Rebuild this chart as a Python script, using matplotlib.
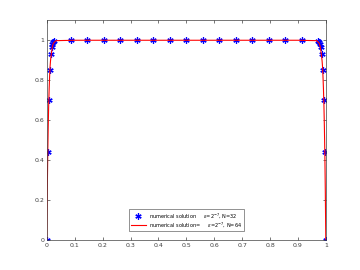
# numerical solution on shishkin mesh, eps = 2^-7
import numpy as np
import matplotlib
matplotlib.use('Agg')
import matplotlib.pyplot as plt

# N=32 nodes
x32 = [0.0, 0.0034, 0.0068, 0.0101, 0.0135, 0.0169, 0.0203, 0.0236, 0.027,
       0.0861, 0.1452, 0.2043, 0.2634, 0.3226, 0.3817, 0.4408, 0.5,
       0.5591, 0.6182, 0.6773, 0.7365, 0.7956, 0.8547, 0.9138,
       0.973, 0.9764, 0.9797, 0.9831, 0.9865, 0.9899, 0.9932, 0.9966, 1.0]
u32 = [0.0, 0.44, 0.70, 0.85, 0.93, 0.965, 0.982, 0.992, 0.996,
       1.0, 1.0, 1.0, 1.0, 1.0, 1.0, 1.0, 1.0,
       1.0, 1.0, 1.0, 1.0, 1.0, 1.0, 1.0,
       0.996, 0.992, 0.982, 0.965, 0.93, 0.85, 0.70, 0.44, 0.0]

# N=64 (only the boundary layers differ visibly)
x64 = [0.0, 0.0017, 0.0034, 0.0051, 0.0068, 0.0085, 0.0101, 0.0118, 0.0135,
       0.0169, 0.0203, 0.0236, 0.0325, 0.1, 0.3, 0.5, 0.7, 0.9, 0.9675,
       0.9764, 0.9797, 0.9831, 0.9865, 0.9882, 0.9899, 0.9915, 0.9932,
       0.9949, 0.9966, 0.9983, 1.0]
u64 = [0.0, 0.24, 0.43, 0.57, 0.68, 0.76, 0.82, 0.87, 0.90,
       0.94, 0.97, 0.985, 0.998, 1.0, 1.0, 1.0, 1.0, 1.0, 0.998,
       0.985, 0.97, 0.94, 0.90, 0.87, 0.82, 0.76, 0.68,
       0.57, 0.43, 0.24, 0.0]

xticks = np.arange(0, 1.01, 0.1)
yticks = np.arange(0, 1.01, 0.2)

fig = plt.figure(figsize=(3.6, 2.7), dpi=100)
ax = fig.add_axes([0.13, 0.11, 0.775, 0.815])

# matlab style asterisk marker
ax.plot(x32, u32, linestyle='none', marker=(6, 2, 0), color='b',
        markersize=4.5, markeredgewidth=0.9,
        label=r'numerical solution     $\epsilon$=2$^{-7}$, N=32')
ax.plot(x64, u64, '-', color='r', linewidth=0.8,
        label=r'numerical solution=     $\epsilon$=2$^{-7}$, N=64')

ax.set_xlim(0, 1)
ax.set_ylim(0, 1.1)
ax.set_xticks(xticks)
ax.set_yticks(yticks)
ax.set_xticklabels(['0', '0.1', '0.2', '0.3', '0.4', '0.5', '0.6', '0.7', '0.8', '0.9', '1'])
ax.set_yticklabels(['0', '0.2', '0.4', '0.6', '0.8', '1'])
ax.tick_params(direction='in', length=2.5, width=0.5, labelsize=4.5,
               colors='#404040', top=True, right=True, pad=2)
for s in ax.spines.values():
    s.set_color('#404040')
    s.set_linewidth(0.5)

leg = ax.legend(loc='lower center', bbox_to_anchor=(0.5, 0.03), fontsize=3.6,
                frameon=True, fancybox=False, edgecolor='#404040',
                handlelength=3, borderpad=0.35, labelspacing=0.15,
                handletextpad=0.6)
leg.get_frame().set_linewidth(0.5)

plt.savefig('out.png', dpi=100)
